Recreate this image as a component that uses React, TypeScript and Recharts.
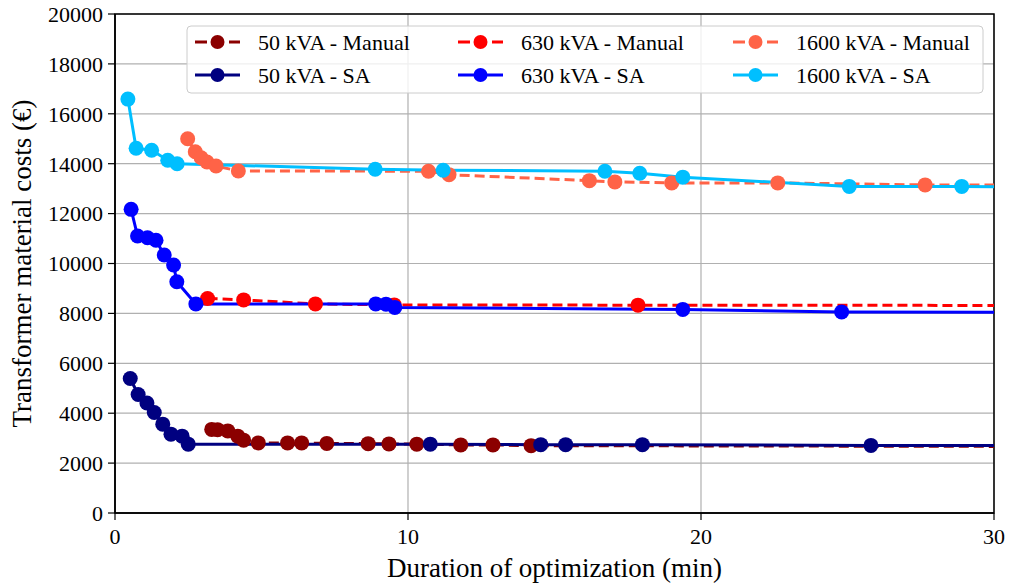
import React from 'react';
import { LineChart, Line, XAxis, YAxis, CartesianGrid, ReferenceArea } from 'recharts';

const FONT = '"Liberation Serif", "Times New Roman", "DejaVu Serif", serif';

// Duration of optimization (min) and material costs (€)
const m50X = [3.3, 3.5, 3.85, 4.19, 4.39, 4.89, 5.89, 6.37, 7.23, 8.64, 9.35, 10.3, 11.8, 12.9, 14.2, 30];
const m50Y = [3350, 3340, 3290, 3080, 2920, 2810, 2810, 2810, 2790, 2780, 2770, 2760, 2730, 2730, 2700, 2670];

const s50X = [0.52, 0.79, 1.09, 1.34, 1.63, 1.91, 2.29, 2.5, 10.76, 14.53, 15.38, 18.0, 25.8, 30];
const s50Y = [5390, 4750, 4410, 4030, 3560, 3160, 3080, 2760, 2760, 2740, 2740, 2740, 2710, 2710];

const m630X = [3.16, 4.39, 6.84, 9.53, 17.85, 30];
const m630Y = [8600, 8540, 8380, 8340, 8330, 8320];

const s630X = [0.55, 0.77, 1.11, 1.4, 1.68, 2.0, 2.11, 2.76, 8.9, 9.25, 9.55, 19.38, 24.8, 30];
const s630Y = [12170, 11100, 11030, 10930, 10340, 9940, 9270, 8380, 8380, 8370, 8240, 8160, 8060, 8050];

const m1600X = [2.48, 2.74, 2.94, 3.14, 3.45, 4.21, 10.7, 11.4, 16.19, 17.06, 19.0, 22.62, 27.65, 30];
const m1600Y = [15000, 14480, 14240, 14070, 13910, 13710, 13700, 13560, 13320, 13270, 13230, 13230, 13150, 13150];

const s1600X = [0.44, 0.72, 1.25, 1.8, 2.12, 8.88, 11.2, 16.72, 17.91, 19.38, 25.06, 28.9, 30];
const s1600Y = [16590, 14620, 14540, 14140, 14000, 13780, 13740, 13700, 13620, 13460, 13090, 13090, 13080];

const xTicks = [0, 10, 20, 30];
const yTicks = [0, 2000, 4000, 6000, 8000, 10000, 12000, 14000, 16000, 18000, 20000];

const seriesNames = [
  '50 kVA - Manual', '50 kVA - SA',
  '630 kVA - Manual', '630 kVA - SA',
  '1600 kVA - Manual', '1600 kVA - SA',
];

const build = (xs: number[], ys: number[]) =>
  xs.map((x, i) => ({ x, y: ys[i], last: i === xs.length - 1 }));

const series = [
  { name: seriesNames[0], data: build(m50X, m50Y), color: '#8B0000', dashed: true },
  { name: seriesNames[1], data: build(s50X, s50Y), color: '#000080', dashed: false },
  { name: seriesNames[2], data: build(m630X, m630Y), color: '#FF0000', dashed: true },
  { name: seriesNames[3], data: build(s630X, s630Y), color: '#0000FF', dashed: false },
  { name: seriesNames[4], data: build(m1600X, m1600Y), color: '#FF6347', dashed: true },
  { name: seriesNames[5], data: build(s1600X, s1600Y), color: '#00BFFF', dashed: false },
];

const makeDot = (color: string) => (props: any) => {
  const { cx, cy, index, payload } = props;
  if (payload && payload.last) return <g key={`e-${index}`} />;
  return <circle key={`d-${index}`} cx={cx} cy={cy} r={7.5} fill={color} stroke="none" />;
};

const DASH = '10 5';
const textStyle = { fontFamily: FONT, fill: '#000' };

const LegendOverlay = () => {
  const cols = [195, 458, 733];
  const rows = [42, 75];
  const order = [[0, 2, 4], [1, 3, 5]];
  return (
    <svg width={1010} height={110} style={{ position: 'absolute', left: 0, top: 0, pointerEvents: 'none' }}>
      <rect x={187} y={26} width={796} height={67} rx={4} ry={4} fill="#ffffff" fillOpacity={0.8} stroke="#cccccc" strokeWidth={1} />
      {order.map((row, ri) =>
        row.map((si, ci) => {
          const s = series[si];
          const x0 = cols[ci];
          const y = rows[ri];
          return (
            <g key={`${ri}-${ci}`}>
              <line x1={x0} x2={x0 + 45} y1={y} y2={y} stroke={s.color} strokeWidth={3}
                strokeDasharray={s.dashed ? '12 5' : undefined} />
              <circle cx={x0 + 22.5} cy={y} r={7} fill={s.color} />
              <text x={x0 + 63} y={y + 7.5} style={{ ...textStyle, fontSize: 22 }}>{s.name}</text>
            </g>
          );
        })
      )}
    </svg>
  );
};

const Tick = (props: any) => {
  const { x, y, payload, textAnchor, dy } = props;
  return (
    <text x={x} y={y} dy={dy} textAnchor={textAnchor} style={{ ...textStyle, fontSize: 22 }}>
      {payload.value}
    </text>
  );
};

const XTick = (props: any) => {
  const { x, y, payload } = props;
  return (
    <text x={x} y={y} dy="0.71em" textAnchor="middle" style={{ ...textStyle, fontSize: 22 }}>
      {payload.value}
    </text>
  );
};

const YTick = (props: any) => {
  const { x, y, payload } = props;
  return (
    <text x={x} y={y} dy="0.355em" textAnchor="end" style={{ ...textStyle, fontSize: 22 }}>
      {payload.value}
    </text>
  );
};

export default function App() {
  return (
    <div style={{ position: 'absolute', left: 0, top: 0, width: 1010, height: 587, background: '#fff' }}>
      <LineChart width={1010} height={587} margin={{ top: 14, right: 16, bottom: 0, left: 0 }}>
        <CartesianGrid stroke="#b0b0b0" strokeWidth={1.2} />
        <XAxis
          type="number"
          dataKey="x"
          domain={[0, 30]}
          ticks={xTicks}
          interval={0}
          allowDataOverflow
          height={74}
          tickSize={7}
          tickMargin={8}
          axisLine={{ stroke: '#000', strokeWidth: 1.5 }}
          tickLine={{ stroke: '#000', strokeWidth: 1.2 }}
          tick={<XTick />}
          label={{
            content: () => (
              <text x={554.5} y={577} textAnchor="middle" style={{ ...textStyle, fontSize: 27 }}>
                Duration of optimization (min)
              </text>
            ),
          }}
        />
        <YAxis
          type="number"
          dataKey="y"
          domain={[0, 20000]}
          ticks={yTicks}
          interval={0}
          allowDataOverflow
          width={115}
          tickSize={7}
          tickMargin={5}
          axisLine={{ stroke: '#000', strokeWidth: 1.5 }}
          tickLine={{ stroke: '#000', strokeWidth: 1.2 }}
          tick={<YTick />}
          label={{
            content: () => (
              <text
                transform="translate(31, 263.5) rotate(-90)"
                x={0}
                y={0}
                textAnchor="middle"
                style={{ ...textStyle, fontSize: 27 }}
              >
                Transformer material costs (€)
              </text>
            ),
          }}
        />
        <ReferenceArea x1={0} x2={30} y1={0} y2={20000} fill="none" fillOpacity={0} stroke="#000" strokeWidth={1.5} ifOverflow="visible" />
        {series.map((s) => (
          <Line
            key={s.name}
            data={s.data}
            dataKey="y"
            name={s.name}
            type="linear"
            stroke={s.color}
            strokeWidth={3}
            strokeDasharray={s.dashed ? DASH : undefined}
            dot={makeDot(s.color)}
            activeDot={false}
            isAnimationActive={false}
          />
        ))}
      </LineChart>
      <LegendOverlay />
    </div>
  );
}
